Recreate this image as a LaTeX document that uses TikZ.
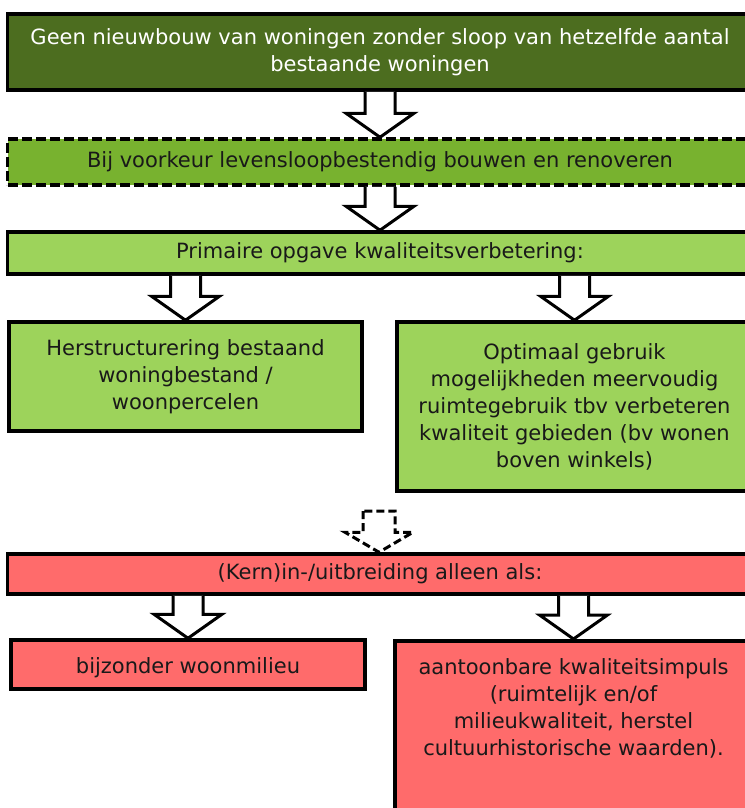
\documentclass[tikz,border=0pt]{standalone}
\usepackage{fontspec}
\setmainfont{DejaVu Sans}
\usetikzlibrary{calc}
\definecolor{darkgreen}{HTML}{4C6D1F}
\definecolor{midgreen}{HTML}{78B22F}
\definecolor{lightgreen}{HTML}{9DD35B}
\definecolor{salmon}{HTML}{FF6B6B}
\begin{document}
\begin{tikzpicture}[x=1pt,y=-1pt,line join=miter,
	box/.style={draw,line width=3.5pt,inner sep=0pt,align=center,text=black!90,font=\fontsize{21}{27}\selectfont},
	widebox/.style={box,minimum width=745pt},
	blockarrow/.style={draw,fill=white,line width=3pt}]
	\useasboundingbox (0,0) rectangle (744,808);
	% green part
	\node[widebox,fill=darkgreen,text=white,minimum height=76pt] (geen) at (380,52) {Geen nieuwbouw van woningen zonder sloop van hetzelfde aantal\\ bestaande woningen};
	\node[widebox,fill=midgreen,dashed,dash pattern=on 10pt off 4pt,minimum height=46pt] (voorkeur) at (380,162) {Bij voorkeur levensloopbestendig bouwen en renoveren};
	\node[widebox,fill=lightgreen,minimum height=42pt] (primair) at (380,253) {Primaire opgave kwaliteitsverbetering:};
	\node[box,fill=lightgreen,minimum width=353pt,minimum height=109pt] (herstruct) at (185.5,376.5) {Herstructurering bestaand\\ woningbestand /\\ woonpercelen};
	\node[box,fill=lightgreen,minimum width=355pt,minimum height=169pt] (optimaal) at (574.5,406.5) {Optimaal gebruik\\ mogelijkheden meervoudig\\ ruimtegebruik tbv verbeteren\\ kwaliteit gebieden (bv wonen\\ boven winkels)};
	% red part
	\node[widebox,fill=salmon,minimum height=40pt] (kern) at (380,574) {(Kern)in-/uitbreiding alleen als:};
	\node[box,fill=salmon,minimum width=354pt,minimum height=49pt,text height=22pt] (bijzonder) at (188,664.5) {bijzonder woonmilieu};
	\node[box,fill=salmon,minimum width=357pt,inner ysep=18pt,anchor=north] (aantoonbaar) at (573.5,639) {\parbox[t][190pt][t]{340pt}{\centering aantoonbare kwaliteitsimpuls\\ (ruimtelijk en/of\\ milieukwaliteit, herstel\\ cultuurhistorische waarden).}};
	% block arrows
	\foreach \a/\b in {geen/voorkeur,voorkeur/primair,primair/herstruct,primair/optimaal,kern/bijzonder,kern/aantoonbaar}
		\draw[blockarrow] let \p1=(\b.north |- \a.south), \p2=(\b.north) in (\x1-15pt,\y1) -- (\x1-15pt,\y2+24pt) -- (\x1-34pt,\y2+24pt) -- (\x1,\y2) -- (\x1+34pt,\y2+24pt) -- (\x1+15pt,\y2+24pt) -- (\x1+15pt,\y1);
	\coordinate (dashtop) at (379,511);
	\draw[blockarrow,dashed,dash pattern=on 8pt off 4pt] let \p1=(dashtop), \p2=(kern.north) in (\x1-16pt,\y1) -- (\x1-16pt,\y2+20pt) -- (\x1-34pt,\y2+20pt) -- (\x1,\y2) -- (\x1+34pt,\y2+20pt) -- (\x1+16pt,\y2+20pt) -- (\x1+16pt,\y1) -- cycle;
\end{tikzpicture}
\end{document}
